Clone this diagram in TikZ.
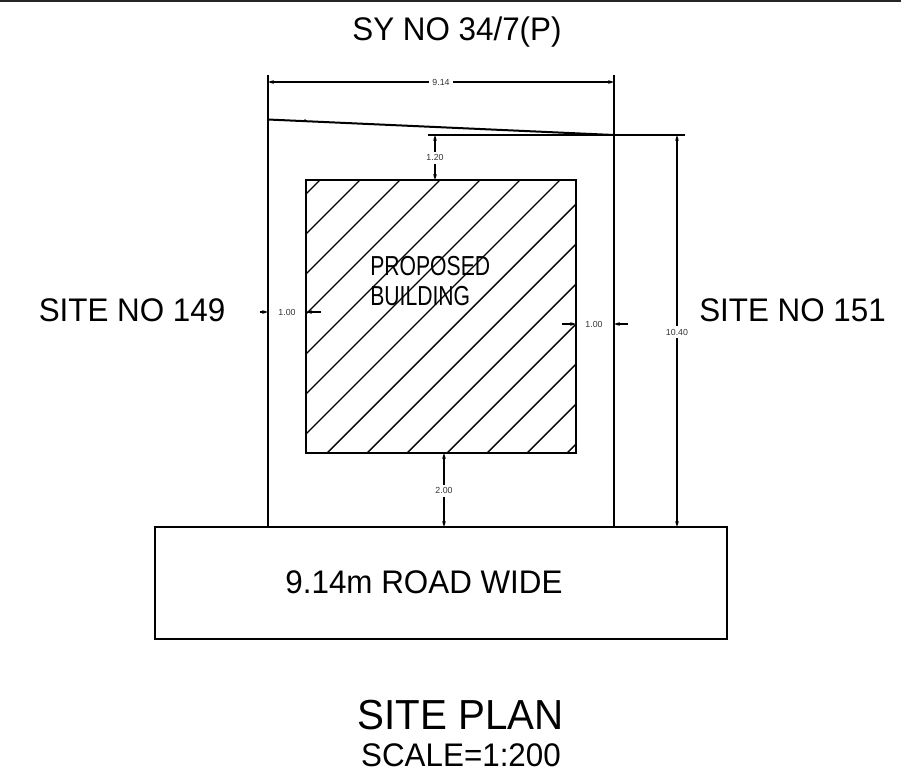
\documentclass[tikz,border=0pt]{standalone}
\usepackage{fontspec}
\setmainfont{Liberation Sans}
\usetikzlibrary{arrows.meta}
\tikzset{
  wall/.style={draw=black,line width=1.5pt},
  hatchline/.style={draw=black,line width=1.05pt},
  dimline/.style={draw=black,line width=1.05pt},
  dimtip/.style={-{Stealth[length=4.5pt,width=2.8pt]}},
  dimtext/.style={font=\fontsize{6.6pt}{7pt}\selectfont,text=black!80,inner sep=0pt},
  bigtext/.style={font=\fontsize{24.5pt}{26pt}\selectfont\addfontfeature{FakeStretch=0.96},inner sep=0pt,anchor=base},
  hatchtext/.style={font=\fontsize{20.6pt}{22pt}\selectfont\addfontfeature{FakeStretch=0.77},inner sep=0pt,anchor=base west},
}
\begin{document}
\begin{tikzpicture}[x=0.75pt,y=-0.75pt]
\useasboundingbox (0,0) rectangle (901,783);
\fill[white] (0,0) rectangle (901,783);
\coordinate (frameL) at (0,1);
\coordinate (frameR) at (901,1);
\draw[line width=1.5pt,black!85] (frameL) -- (frameR);
% plot
\coordinate (plotTL) at (268,119.5);
\coordinate (plotTR) at (614,135);
\coordinate (plotBL) at (268,527);
\coordinate (plotBR) at (614,527);
\coordinate (extL) at (268,75);
\coordinate (extR) at (614,75);
\draw[wall] (extL) -- (plotBL);
\draw[wall] (extR) -- (plotBR);
\draw[wall] (plotTL) -- (plotTR);
\fill (305,120.2) circle (0.9pt);
% building
\node[draw=none,minimum width=202.5pt,minimum height=204.75pt,inner sep=0pt,outer sep=0pt,anchor=north west] (bldg) at (306,180) {};
\begin{scope}
\clip (bldg.north west) rectangle (bldg.south east);
\foreach \k in {0,...,13}{
  \draw[hatchline] ({500+40*\k-180},180) -- ({500+40*\k-453},453);
}
\end{scope}
\draw[wall] (bldg.north west) rectangle (bldg.south east);
% road
\node[draw,line width=1.4pt,minimum width=429pt,minimum height=84pt,inner sep=0pt,outer sep=0pt,anchor=north west] (road) at (155,527) {};
\node[bigtext] (roadtext) at (424,593) {9.14m ROAD WIDE};
% dimension 9.14
\coordinate (d1a) at (268,82);
\coordinate (d1b) at (614,82);
\node[dimtext] (d1) at (441,82) {9.14};
\draw[dimline,dimtip] ([xshift=-9pt]d1.center) -- (d1a);
\draw[dimline,dimtip] ([xshift=9pt]d1.center) -- (d1b);
% datum line
\coordinate (datL) at (428,135);
\coordinate (datR) at (685,135);
\draw[dimline] (datL) -- (datR);
% dimension 1.20
\coordinate (d2a) at (435,135);
\coordinate (d2b) at (435,180);
\node[dimtext] (d2) at (435,157.5) {1.20};
\draw[dimline,dimtip] ([yshift=4.5pt]d2.center) -- (d2a);
\draw[dimline,dimtip] ([yshift=-4.5pt]d2.center) -- (d2b);
% dimension 10.40
\coordinate (d3a) at (677,135);
\coordinate (d3b) at (677,527);
\node[dimtext] (d3) at (677,332) {10.40};
\draw[dimline,dimtip] ([yshift=4.5pt]d3.center) -- (d3a);
\draw[dimline,dimtip] ([yshift=-4.5pt]d3.center) -- (d3b);
% dimension 2.00
\coordinate (d4a) at (444,453);
\coordinate (d4b) at (444,527);
\node[dimtext] (d4) at (444,490.5) {2.00};
\draw[dimline,dimtip] ([yshift=4.5pt]d4.center) -- (d4a);
\draw[dimline,dimtip] ([yshift=-4.5pt]d4.center) -- (d4b);
% dimension left 1.00
\coordinate (d5o) at (260,312);
\coordinate (d5a) at (268,312);
\coordinate (d5i) at (320.5,312);
\coordinate (d5b) at (306,312);
\node[dimtext] (d5) at (287,312) {1.00};
\draw[dimline,dimtip] (d5o) -- (d5a);
\draw[dimline,dimtip] (d5i) -- (d5b);
% dimension right 1.00
\coordinate (d6o) at (562,324);
\coordinate (d6a) at (576,324);
\coordinate (d6i) at (628,324);
\coordinate (d6b) at (614,324);
\node[dimtext] (d6) at (594,324) {1.00};
\draw[dimline,dimtip] (d6o) -- (d6a);
\draw[dimline,dimtip] (d6i) -- (d6b);
% labels
\node[bigtext] (north) at (457,40.7) {SY NO 34/7(P)};
\node[bigtext] (west) at (132,321.7) {SITE NO 149};
\node[bigtext] (east) at (792.5,321.7) {SITE NO 151};
\node[hatchtext] (prop) at (370,275.7) {PROPOSED};
\node[hatchtext] (bldgtext) at (370,305) {BUILDING};
\node[font=\fontsize{31.5pt}{33pt}\selectfont\addfontfeature{FakeStretch=0.96},inner sep=0pt,anchor=base] (title) at (460.4,729.3) {SITE PLAN};
\node[bigtext] (scale) at (461,766.7) {SCALE=1:200};
\end{tikzpicture}
\end{document}
